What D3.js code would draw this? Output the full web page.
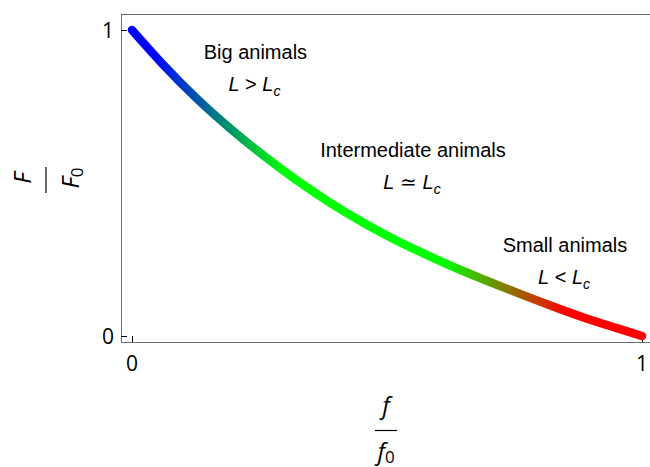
<!DOCTYPE html>
<html>
<head>
<meta charset="utf-8">
<script src="https://cdn.jsdelivr.net/npm/d3@7"></script>
<style>
  body { margin: 0; background: #fff; }
  svg { display: block; }
  .tick-label { font-family: "Open Sans", sans-serif; font-size: 21px; fill: #000; }
  .axis-label { font-family: "Open Sans", sans-serif; font-size: 24px; font-style: italic; fill: #000; }
  .note { font-family: "Liberation Sans", Arial, sans-serif; font-size: 20px; fill: #000; }
</style>
</head>
<body>
<svg id="chart" width="650" height="467"></svg>
<script>
// values
var ratioF = [0, 0.061, 0.127, 0.192, 0.257, 0.323, 0.388, 0.453, 0.506, 0.561, 0.627, 0.692, 0.757, 0.823, 0.888, 0.954, 1];
var ratioForce = [1, 0.887, 0.776, 0.679, 0.591, 0.509, 0.436, 0.371, 0.323, 0.278, 0.228, 0.183, 0.140, 0.098, 0.059, 0.024, 0];
var colorStops = [0, 0.04, 0.30, 0.61, 0.85, 1];
var colorValues = ["#0000ff", "#0000ff", "#00ff00", "#00ff00", "#ff0000", "#ff0000"];
var xTicks = [0, 1];
var yTicks = [0, 1];
var notes = [
  {title: "Big animals", rel: ">", x: 0.242, y: 0.905},
  {title: "Intermediate animals", rel: "\u2243", x: 0.551, y: 0.585},
  {title: "Small animals", rel: "<", x: 0.849, y: 0.275}
];

var svg = d3.select("#chart");
var frame = {left: 121, right: 656, top: 14, bottom: 342};

var x = d3.scaleLinear().domain([0, 1]).range([132, 642]);
var y = d3.scaleLinear().domain([0, 1]).range([336, 30]);

// frame
svg.append("rect")
    .attr("x", frame.left + 0.5).attr("y", frame.top + 0.5)
    .attr("width", frame.right - frame.left).attr("height", frame.bottom - frame.top)
    .attr("fill", "none").attr("stroke", "#6b6b6b").attr("stroke-width", 1);

// ticks
svg.selectAll(".xtick").data(xTicks).enter().append("line")
    .attr("x1", function(d) { return Math.round(x(d)) + 0.5; })
    .attr("x2", function(d) { return Math.round(x(d)) + 0.5; })
    .attr("y1", frame.bottom).attr("y2", frame.bottom - 6)
    .attr("stroke", "#000").attr("stroke-width", 1);
svg.selectAll(".ytick").data(yTicks).enter().append("line")
    .attr("y1", function(d) { return Math.round(y(d)) + 0.5; })
    .attr("y2", function(d) { return Math.round(y(d)) + 0.5; })
    .attr("x1", frame.left).attr("x2", frame.left + 6)
    .attr("stroke", "#000").attr("stroke-width", 1);

svg.selectAll(".xlab").data(xTicks).enter().append("text")
    .attr("class", "tick-label")
    .attr("x", function(d) { return x(d); })
    .attr("y", 371)
    .attr("text-anchor", "middle")
    .text(function(d) { return d; });
svg.selectAll(".ylab").data(yTicks).enter().append("text")
    .attr("class", "tick-label")
    .attr("x", 114)
    .attr("y", function(d) { return y(d) + 7.5; })
    .attr("text-anchor", "end")
    .text(function(d) { return d; });

// gradient along x
var grad = svg.append("defs").append("linearGradient")
    .attr("id", "curveGrad")
    .attr("gradientUnits", "userSpaceOnUse")
    .attr("x1", x(0)).attr("x2", x(1)).attr("y1", 0).attr("y2", 0);
grad.selectAll("stop").data(colorStops).enter().append("stop")
    .attr("offset", function(d) { return d; })
    .attr("stop-color", function(d, i) { return colorValues[i]; });

var line = d3.line()
    .x(function(d, i) { return x(ratioF[i]); })
    .y(function(d) { return y(d); })
    .curve(d3.curveMonotoneX);

svg.append("path")
    .datum(ratioForce)
    .attr("d", line)
    .attr("fill", "none")
    .attr("stroke", "url(#curveGrad)")
    .attr("stroke-width", 8.5)
    .attr("stroke-linecap", "round");

// annotations
var g = svg.selectAll(".note-g").data(notes).enter().append("g");
g.append("text")
    .attr("class", "note")
    .attr("x", function(d) { return x(d.x); })
    .attr("y", function(d) { return y(d.y); })
    .attr("text-anchor", "middle")
    .text(function(d) { return d.title; });
var rel = g.append("text")
    .attr("class", "note")
    .attr("x", function(d) { return x(d.x) - 1; })
    .attr("y", function(d) { return y(d.y) + 32; })
    .attr("text-anchor", "middle");
rel.append("tspan").attr("font-style", "italic").text("L");
rel.append("tspan").text(function(d) { return " " + d.rel + " "; });
rel.append("tspan").attr("font-style", "italic").text("L");
rel.append("tspan").attr("font-style", "italic").attr("font-size", "14px")
    .attr("dy", 5).text("c");

// x axis label as a fraction
var xl = svg.append("g").attr("transform", "translate(386,430)");
xl.append("text").attr("class", "axis-label").attr("x", 0).attr("y", -16)
    .attr("text-anchor", "middle").text("f");
xl.append("line").attr("x1", -11).attr("x2", 11).attr("y1", 0.5).attr("y2", 0.5)
    .attr("stroke", "#000").attr("stroke-width", 1.2);
var xd = xl.append("text").attr("class", "axis-label").attr("x", 0).attr("y", 30)
    .attr("text-anchor", "middle");
xd.append("tspan").text("f");
xd.append("tspan").attr("font-style", "normal").attr("font-size", "17px").attr("dy", 3).text("0");

// y axis label as a rotated fraction
var yl = svg.append("g").attr("transform", "translate(46,180) rotate(-90)");
yl.append("text").attr("class", "axis-label").attr("x", 2).attr("y", -15)
    .attr("text-anchor", "middle").text("F");
yl.append("line").attr("x1", -13).attr("x2", 13).attr("y1", 0).attr("y2", 0)
    .attr("stroke", "#000").attr("stroke-width", 1.2);
var yd = yl.append("text").attr("class", "axis-label").attr("x", 2).attr("y", 33)
    .attr("text-anchor", "middle");
yd.append("tspan").text("F");
yd.append("tspan").attr("font-style", "normal").attr("font-size", "17px").attr("dy", 4).text("0");
</script>
</body>
</html>
